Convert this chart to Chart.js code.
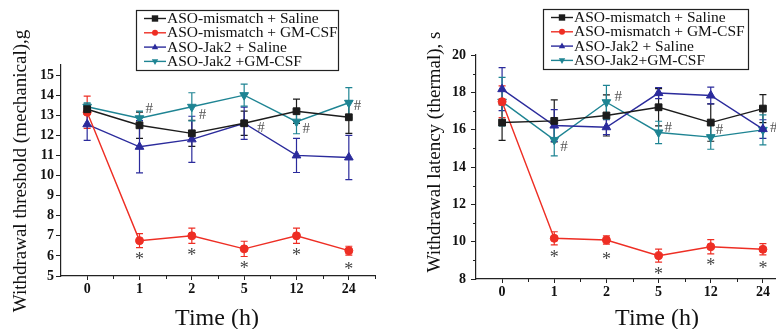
<!DOCTYPE html>
<html>
<head>
<meta charset="utf-8">
<script src="https://cdn.jsdelivr.net/npm/chart.js@4.4.1/dist/chart.umd.min.js"></script>
<style>
	html, body { margin: 0; padding: 0; background: #fff; overflow: hidden; width: 776px; height: 329px; }
	canvas { position: absolute; top: 0; }
	#mech { left: 0; }
	#therm { left: 390px; }
</style>
</head>
<body>
<canvas id="mech" width="390" height="329"></canvas>
<canvas id="therm" width="410" height="329"></canvas>
<script>
const timeLabels = ['0', '1', '2', '5', '12', '24']

const seriesNamesMech = ['ASO-mismatch + Saline', 'ASO-mismatch + GM-CSF', 'ASO-Jak2 + Saline', 'ASO-Jak2 +GM-CSF']
const seriesNamesTherm = ['ASO-mismatch + Saline', 'ASO-mismatch + GM-CSF', 'ASO-Jak2 + Saline', 'ASO-Jak2+GM-CSF']

// mechanical threshold, g (mean and error)
const mechMismatchSaline = [13.3, 12.5, 12.1, 12.6, 13.2, 12.9]
const mechMismatchSalineErr = [0.25, 0.65, 0.65, 0.6, 0.6, 0.8]
const mechMismatchGmcsf = [13.15, 6.76, 7.0, 6.35, 7.0, 6.26]
const mechMismatchGmcsfErr = [0.8, 0.35, 0.38, 0.38, 0.38, 0.22]
const mechJak2Saline = [12.55, 11.43, 11.8, 12.6, 11.0, 10.9]
const mechJak2SalineErr = [0.8, 1.3, 1.15, 0.8, 0.85, 1.1]
const mechJak2Gmcsf = [13.42, 12.85, 13.42, 14.0, 12.68, 13.62]
const mechJak2GmcsfErr = [0.2, 0.35, 0.7, 0.55, 0.6, 0.75]

// thermal latency, s (mean and error)
const thermMismatchSaline = [16.38, 16.47, 16.76, 17.2, 16.38, 17.13]
const thermMismatchSalineErr = [0.95, 1.13, 1.1, 1.0, 1.0, 0.75]
const thermMismatchGmcsf = [17.5, 10.18, 10.09, 9.25, 9.73, 9.59]
const thermMismatchGmcsfErr = [0.85, 0.35, 0.22, 0.35, 0.38, 0.3]
const thermJak2Saline = [18.17, 16.22, 16.13, 17.96, 17.83, 16.03]
const thermJak2SalineErr = [1.15, 0.85, 0.4, 0.3, 0.45, 0.5]
const thermJak2Gmcsf = [17.5, 15.45, 17.47, 15.85, 15.6, 15.99]
const thermJak2GmcsfErr = [1.3, 0.85, 0.9, 0.6, 0.65, 0.8]

const mechYTicks = [5, 6, 7, 8, 9, 10, 11, 12, 13, 14, 15]
const thermYTicks = [8, 10, 12, 14, 16, 18, 20]

// significance marks: '*' under GM-CSF mismatch points, '#' beside the Jak2 series
const starIndex = [1, 2, 3, 4, 5]
const mechHash = [{ i: 1, s: 3 }, { i: 2, s: 3 }, { i: 3, s: 2 }, { i: 4, s: 3 }, { i: 5, s: 3 }]
const thermHash = [{ i: 1, s: 3 }, { i: 2, s: 3 }, { i: 3, s: 3 }, { i: 4, s: 3 }, { i: 5, s: 3 }]

const SERIF = "'Liberation Serif', 'Times New Roman', serif"
const AXIS = '#222'
const colors = ['#1c1c1c', '#ee2e24', '#2b2b9c', '#1e8493']
const markers = ['rect', 'circle', 'triangle', 'triangleDown']

function toPoints(values) {
	return values.map((v, i) => ({ x: i, y: v }))
}

function makeDatasets(values, errors, names) {
	return values.map((vals, k) => ({
		label: names[k],
		data: toPoints(vals),
		errors: errors[k],
		borderColor: colors[k],
		backgroundColor: colors[k],
		borderWidth: 1.4,
		pointStyle: markers[k] === 'triangleDown' ? 'triangle' : markers[k],
		pointRotation: markers[k] === 'triangleDown' ? 180 : 0,
		pointRadius: markers[k] === 'rect' ? 4.8 : markers[k] === 'circle' ? 4 : 5,
		pointBorderWidth: 1,
		tension: 0,
	}))
}

function drawMarker(ctx, type, x, y, r) {
	ctx.beginPath()
	if (type === 'rect') {
		ctx.rect(x - r, y - r, r * 2, r * 2)
	} else if (type === 'circle') {
		ctx.arc(x, y, r, 0, Math.PI * 2)
	} else if (type === 'triangle') {
		ctx.moveTo(x, y - r * 1.1)
		ctx.lineTo(x + r, y + r * 0.7)
		ctx.lineTo(x - r, y + r * 0.7)
		ctx.closePath()
	} else {
		ctx.moveTo(x, y + r * 1.1)
		ctx.lineTo(x + r, y - r * 0.7)
		ctx.lineTo(x - r, y - r * 0.7)
		ctx.closePath()
	}
	ctx.fill()
}

// error bars with caps, drawn under the markers
const errorBars = {
	id: 'errorBars',
	beforeDatasetsDraw(chart) {
		const { ctx, scales } = chart
		ctx.save()
		ctx.lineWidth = 1.2
		chart.data.datasets.forEach((ds) => {
			ctx.strokeStyle = ds.borderColor
			ds.data.forEach((p, i) => {
				const e = ds.errors[i]
				const x = scales.x.getPixelForValue(p.x)
				const yTop = scales.y.getPixelForValue(p.y + e)
				const yBot = scales.y.getPixelForValue(p.y - e)
				ctx.beginPath()
				ctx.moveTo(x, yTop)
				ctx.lineTo(x, yBot)
				ctx.moveTo(x - 3.5, yTop)
				ctx.lineTo(x + 3.5, yTop)
				ctx.moveTo(x - 3.5, yBot)
				ctx.lineTo(x + 3.5, yBot)
				ctx.stroke()
			})
		})
		ctx.restore()
	},
}

// minor ticks, axis titles, significance marks and the boxed legend
const decorations = {
	id: 'decorations',
	afterDraw(chart, args, opts) {
		const { ctx, scales, chartArea } = chart
		ctx.save()
		ctx.strokeStyle = AXIS
		ctx.lineWidth = 1
		ctx.beginPath()
		for (let v = 0.5; v <= 5.5; v += 1) {
			const x = Math.round(scales.x.getPixelForValue(v)) + 0.5
			ctx.moveTo(x, chartArea.bottom)
			ctx.lineTo(x, chartArea.bottom + 3)
		}
		;(opts.yMinor || []).forEach((v) => {
			const y = Math.round(scales.y.getPixelForValue(v)) + 0.5
			ctx.moveTo(chartArea.left, y)
			ctx.lineTo(chartArea.left - 3, y)
		})
		ctx.stroke()

		// axis titles
		ctx.fillStyle = '#111'
		ctx.font = '24px ' + SERIF
		ctx.textAlign = 'center'
		ctx.textBaseline = 'alphabetic'
		ctx.fillText('Time (h)', opts.xTitle[0], opts.xTitle[1])
		ctx.save()
		ctx.translate(opts.yTitle[0], opts.yTitle[1])
		ctx.rotate(-Math.PI / 2)
		ctx.font = '19px ' + SERIF
		ctx.textBaseline = 'middle'
		ctx.fillText(opts.yTitleText, 0, 0)
		ctx.restore()

		// '*' under the GM-CSF mismatch series
		const red = chart.data.datasets[1].data
		ctx.fillStyle = '#444'
		ctx.font = '18px ' + SERIF
		ctx.textBaseline = 'middle'
		starIndex.forEach((i) => {
			const x = scales.x.getPixelForValue(i)
			const y = scales.y.getPixelForValue(red[i].y)
			ctx.fillText('*', x, y + 20)
		})

		// '#' beside the Jak2 series
		ctx.font = '15px ' + SERIF
		ctx.textAlign = 'left'
		opts.hash.forEach((h, k) => {
			const p = chart.data.datasets[h.s].data[h.i]
			const x = scales.x.getPixelForValue(p.x)
			const y = scales.y.getPixelForValue(p.y)
			ctx.fillStyle = '#555'
			ctx.fillText('#', x + opts.hashOffset[k][0], y + opts.hashOffset[k][1])
		})

		// legend box
		const L = opts.legend
		ctx.fillStyle = '#fff'
		ctx.fillRect(L.x, L.y, L.w, L.h)
		ctx.strokeStyle = '#222'
		ctx.lineWidth = 1.2
		ctx.strokeRect(L.x + 0.5, L.y + 0.5, L.w, L.h)
		ctx.font = '15.5px ' + SERIF
		ctx.textBaseline = 'middle'
		ctx.textAlign = 'left'
		chart.data.datasets.forEach((ds, k) => {
			const y = L.y + 8.5 + k * 14.3
			ctx.strokeStyle = ds.borderColor
			ctx.lineWidth = 1.4
			ctx.beginPath()
			ctx.moveTo(L.x + 8, y)
			ctx.lineTo(L.x + 30, y)
			ctx.stroke()
			ctx.fillStyle = ds.borderColor
			drawMarker(ctx, markers[k], L.x + 19, y, markers[k] === 'circle' ? 3 : 3.2)
			ctx.fillStyle = '#111'
			ctx.fillText(ds.label, L.x + 31, y + 0.5)
		})
		ctx.restore()
	},
}

function renderPanel(canvasId, datasets, yMin, yMax, yTicks, sizes, deco) {
	const ctx = document.getElementById(canvasId).getContext('2d')
	return new Chart(ctx, {
		type: 'line',
		data: { datasets: datasets },
		options: {
			responsive: false,
			animation: false,
			devicePixelRatio: 1,
			layout: { padding: sizes.padding },
			scales: {
				x: {
					type: 'linear',
					min: -0.5,
					max: 5.5,
					afterBuildTicks: (scale) => {
						scale.ticks = timeLabels.map((t, i) => ({ value: i }))
					},
					afterFit: (scale) => {
						scale.height = sizes.xHeight
					},
					ticks: {
						callback: (v) => timeLabels[v],
						font: { family: SERIF, size: 14, weight: 'bold' },
						color: '#111',
						padding: 1,
						maxRotation: 0,
					},
					grid: { drawOnChartArea: false, drawTicks: true, tickLength: 4, tickColor: AXIS },
					border: { display: true, color: AXIS, width: 1.2 },
				},
				y: {
					type: 'linear',
					min: yMin,
					max: yMax,
					afterBuildTicks: (scale) => {
						scale.ticks = yTicks.map((v) => ({ value: v }))
					},
					afterFit: (scale) => {
						scale.width = sizes.yWidth
					},
					ticks: {
						font: { family: SERIF, size: 14, weight: 'bold' },
						color: '#111',
						padding: sizes.yPad,
					},
					grid: { drawOnChartArea: false, drawTicks: true, tickLength: 5, tickColor: AXIS },
					border: { display: true, color: AXIS, width: 1.2 },
				},
			},
			plugins: {
				legend: { display: false },
				tooltip: { enabled: false },
				decorations: deco,
			},
		},
		plugins: [errorBars, decorations],
	})
}

renderPanel(
	'mech',
	makeDatasets(
		[mechMismatchSaline, mechMismatchGmcsf, mechJak2Saline, mechJak2Gmcsf],
		[mechMismatchSalineErr, mechMismatchGmcsfErr, mechJak2SalineErr, mechJak2GmcsfErr],
		seriesNamesMech
	),
	5, 15.5, mechYTicks,
	{ padding: { left: 0, right: 15, top: 65, bottom: 0 }, yWidth: 61, xHeight: 53, yPad: 2 },
	{
		xTitle: [217, 325],
		yTitle: [21, 171],
		yTitleText: 'Withdrawal threshold (mechanical),g',
		legend: { x: 136, y: 10, w: 202, h: 60 },
		hash: mechHash,
		hashOffset: [[6, -9], [7, 8], [13, 5], [6, 7], [5, 3]],
	}
)

renderPanel(
	'therm',
	makeDatasets(
		[thermMismatchSaline, thermMismatchGmcsf, thermJak2Saline, thermJak2Gmcsf],
		[thermMismatchSalineErr, thermMismatchGmcsfErr, thermJak2SalineErr, thermJak2GmcsfErr],
		seriesNamesTherm
	),
	8, 20, thermYTicks,
	{ padding: { left: 0, right: 11, top: 55, bottom: 0 }, yWidth: 86, xHeight: 50, yPad: 5 },
	{
		xTitle: [267, 325],
		yTitle: [45, 152],
		yTitleText: 'Withdrawal latency (thermal), s',
		yMinor: [9, 11, 13, 15, 17, 19],
		legend: { x: 153, y: 9, w: 205, h: 60 },
		hash: thermHash,
		hashOffset: [[6, 7], [8, -5], [6, -4], [5, -7], [7, -2]],
	}
)
</script>
</body>
</html>
